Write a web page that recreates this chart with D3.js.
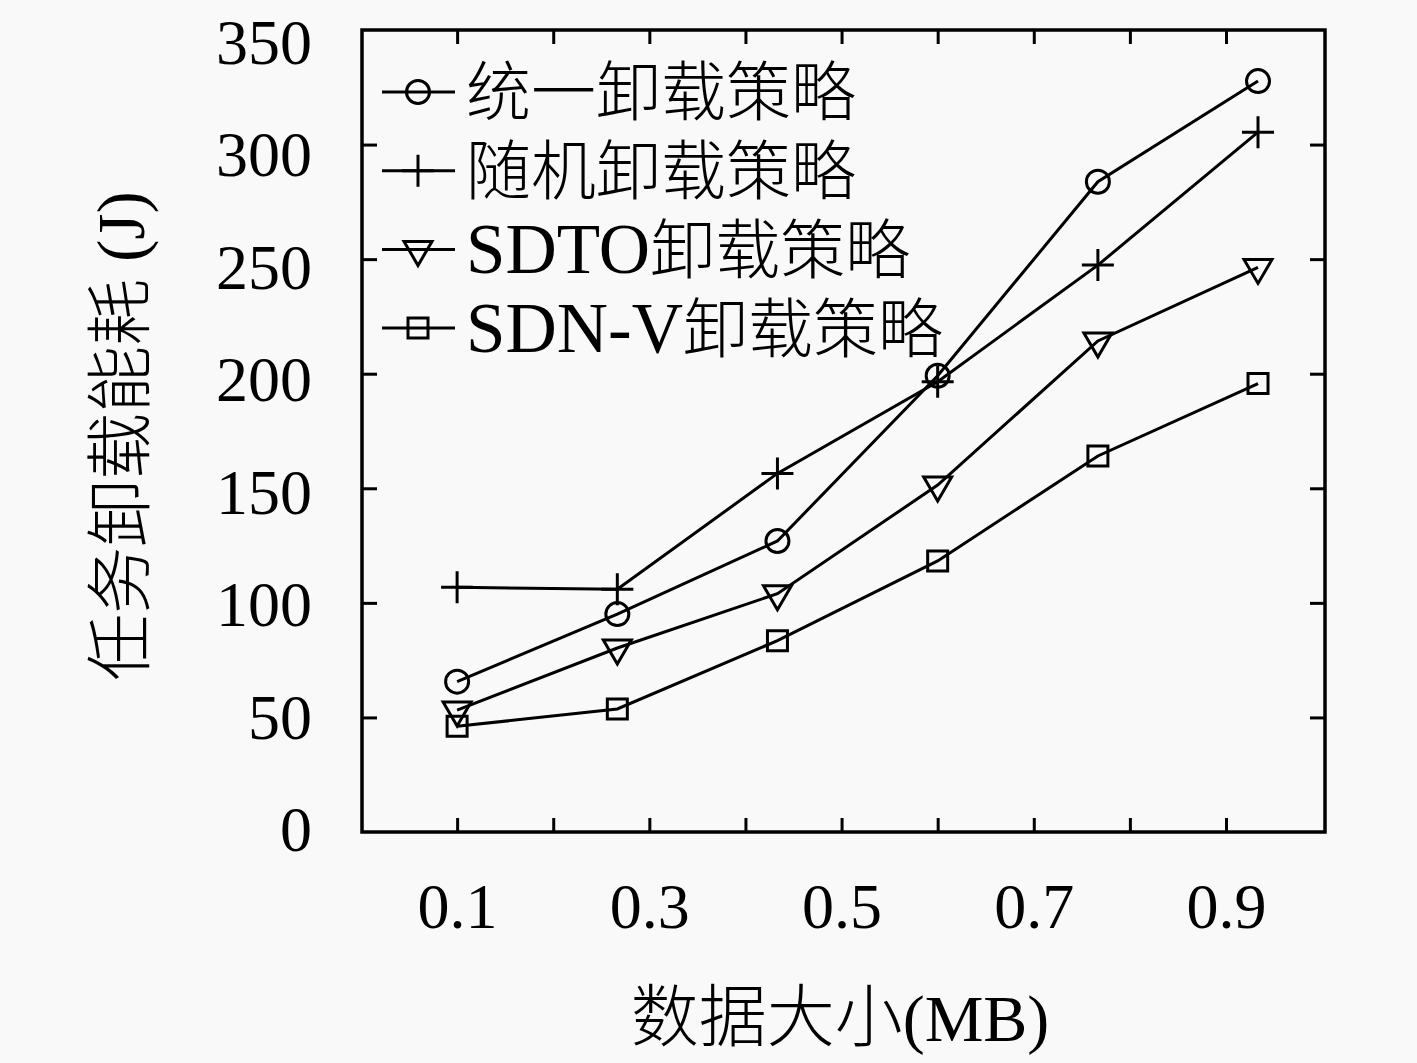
<!DOCTYPE html>
<html>
<head>
<meta charset="utf-8">
<script src="https://cdn.jsdelivr.net/npm/d3@7"></script>
<style>
  html, body { margin: 0; padding: 0; background: #f9f9f9; }
  svg { display: block; }
  text { font-family: "Liberation Serif", "Noto Sans CJK SC", serif; fill: #000; }
  .cjk { font-family: "Noto Sans CJK SC", sans-serif; font-weight: 300; }
</style>
</head>
<body>
<svg id="chart" width="1417" height="1063"></svg>
<script>
// data
const dataSizes = [0.1, 0.2667, 0.4333, 0.6, 0.7667, 0.9333];
const unifiedEnergy = [65.6, 95.1, 127.0, 199.1, 283.8, 327.7];
const randomEnergy = [106.8, 105.9, 156.5, 196.5, 247.4, 305.4];
const sdtoEnergy = [53.2, 80.3, 104.0, 151.4, 214.3, 246.4];
const sdnvEnergy = [46.1, 53.7, 83.5, 118.3, 164.1, 195.7];

const seriesNames = ['统一卸载策略', '随机卸载策略', 'SDTO卸载策略', 'SDN-V卸载策略'];
const seriesMarkers = ['circle', 'plus', 'triangle', 'square'];

const xTicks = [0.1, 0.2, 0.3, 0.4, 0.5, 0.6, 0.7, 0.8, 0.9];
const xTickLabels = ['0.1', '', '0.3', '', '0.5', '', '0.7', '', '0.9'];
const yTicks = [0, 50, 100, 150, 200, 250, 300, 350];

const xTitle = '数据大小(MB)';
const yTitle = '任务卸载能耗 (J)';

const series = [unifiedEnergy, randomEnergy, sdtoEnergy, sdnvEnergy].map((vals, i) => ({
  name: seriesNames[i],
  marker: seriesMarkers[i],
  points: vals.map((v, j) => ({ x: dataSizes[j], y: v }))
}));

const plotL = 362, plotR = 1325, plotT = 30, plotB = 832;
const LW = 3;
const svg = d3.select('#chart');

const x = d3.scaleLinear().domain([0, 1.003]).range([plotL - 1, plotR]);
const y = d3.scaleLinear().domain([0, 350]).range([plotB, plotT]);
// the tick numbers in the original sit on a slightly shorter scale than the ticks
const yLabel = d3.scaleLinear().domain([0, 350]).range([830, 43]);

function markerPath(type, cx, cy) {
  const p = d3.path();
  if (type === 'circle') {
    p.moveTo(cx + 11.5, cy);
    p.arc(cx, cy, 11.5, 0, Math.PI * 2);
  } else if (type === 'square') {
    p.rect(cx - 10, cy - 10, 20, 20);
  } else if (type === 'triangle') {
    p.moveTo(cx - 14, cy - 8);
    p.lineTo(cx + 14, cy - 8);
    p.lineTo(cx, cy + 16);
    p.closePath();
  } else {
    p.moveTo(cx - 16, cy); p.lineTo(cx + 16, cy);
    p.moveTo(cx, cy - 16); p.lineTo(cx, cy + 16);
  }
  return p.toString();
}

// split "SDTO卸载策略" into latin and CJK runs so each gets its own font
function addRuns(textSel, str, latinSize) {
  str.match(/[\u3400-\u9fff]+|[^\u3400-\u9fff]+/g).forEach(run => {
    const isCjk = /[\u3400-\u9fff]/.test(run);
    const t = textSel.append('tspan').text(run);
    if (isCjk) t.attr('class', 'cjk');
    else t.attr('font-size', latinSize);
  });
}

const tickFont = g => g.attr('font-family', '"Liberation Serif", serif').attr('font-size', 64);
const thick = g => g.selectAll('.tick line').attr('stroke-width', LW);

// y ticks (inward, both sides)
svg.append('g')
  .attr('transform', `translate(${plotL},0)`)
  .call(d3.axisLeft(y).tickValues(yTicks.slice(1, -1)).tickSize(-15).tickFormat(''))
  .call(g => g.select('.domain').remove())
  .call(thick);

svg.append('g')
  .attr('transform', `translate(${plotR},0)`)
  .call(d3.axisRight(y).tickValues(yTicks.slice(1, -1)).tickSize(-15).tickFormat(''))
  .call(g => g.select('.domain').remove())
  .call(thick);

// y tick numbers
svg.append('g')
  .attr('transform', `translate(${plotL},0)`)
  .call(d3.axisLeft(yLabel).tickValues(yTicks).tickSize(0).tickPadding(50))
  .call(tickFont)
  .call(g => g.select('.domain').remove())
  .call(g => g.selectAll('.tick line').remove());

// x ticks (inward, top and bottom)
svg.append('g')
  .attr('transform', `translate(0,${plotB})`)
  .call(d3.axisBottom(x).tickValues(xTicks).tickSize(-14).tickPadding(51)
    .tickFormat((d, i) => xTickLabels[i]))
  .call(tickFont)
  .call(g => g.select('.domain').remove())
  .call(thick);

svg.append('g')
  .attr('transform', `translate(0,${plotT})`)
  .call(d3.axisTop(x).tickValues(xTicks).tickSize(-14).tickFormat(''))
  .call(g => g.select('.domain').remove())
  .call(thick);

svg.append('rect')
  .attr('x', plotL).attr('y', plotT)
  .attr('width', plotR - plotL).attr('height', plotB - plotT)
  .attr('fill', 'none').attr('stroke', '#000').attr('stroke-width', 3.5);

// titles
const xt = svg.append('text')
  .attr('x', 840).attr('y', 1041)
  .attr('text-anchor', 'middle')
  .attr('font-size', 68);
addRuns(xt, xTitle, 66);

const yt = svg.append('text')
  .attr('transform', 'translate(120,436) rotate(-90)')
  .attr('text-anchor', 'middle')
  .attr('dy', '0.36em')
  .attr('font-size', 67);
addRuns(yt, yTitle, 67);

// lines and markers
const line = d3.line().x(d => x(d.x)).y(d => y(d.y));

series.forEach(s => {
  svg.append('path')
    .datum(s.points)
    .attr('d', line)
    .attr('fill', 'none')
    .attr('stroke', '#000')
    .attr('stroke-width', LW);
  svg.selectAll(null)
    .data(s.points)
    .enter().append('path')
    .attr('d', d => markerPath(s.marker, x(d.x), y(d.y)))
    .attr('fill', 'none')
    .attr('stroke', '#000')
    .attr('stroke-width', LW);
});

// legend
const legend = svg.append('g');
series.forEach((s, i) => {
  const ly = 92 + i * 78.7;
  legend.append('line')
    .attr('x1', 382).attr('x2', 455)
    .attr('y1', ly).attr('y2', ly)
    .attr('stroke', '#000').attr('stroke-width', LW);
  legend.append('path')
    .attr('d', markerPath(s.marker, 418, ly))
    .attr('fill', 'none').attr('stroke', '#000').attr('stroke-width', LW);
  const t = legend.append('text')
    .attr('x', 466).attr('y', ly)
    .attr('dy', '0.36em')
    .attr('font-size', 65);
  addRuns(t, s.name, 71);
});
</script>
</body>
</html>
